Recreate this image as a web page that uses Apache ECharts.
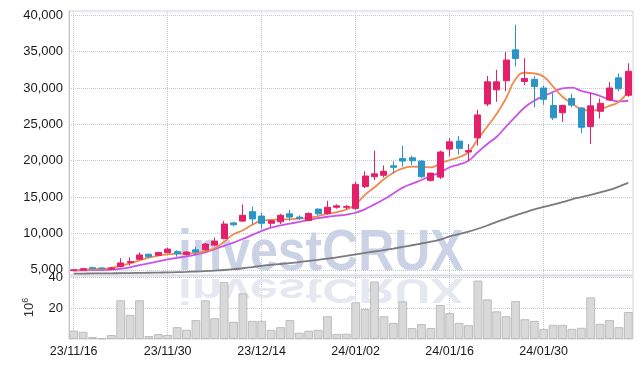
<!DOCTYPE html>
<html><head><meta charset="utf-8">
<script src="https://cdn.jsdelivr.net/npm/echarts@6/dist/echarts.min.js"></script>
<style>html,body{margin:0;padding:0;background:#fff}#c{width:643px;height:368px}</style>
</head><body><div id="c"></div>
<script>
const dates = ['23/11/16','23/11/17','23/11/20','23/11/21','23/11/22','23/11/23','23/11/24','23/11/27','23/11/28','23/11/29','23/11/30',
'23/12/01','23/12/04','23/12/05','23/12/06','23/12/07','23/12/08','23/12/11','23/12/12','23/12/13','23/12/14',
'23/12/15','23/12/18','23/12/19','23/12/20','23/12/21','23/12/22','23/12/26','23/12/27','23/12/28',
'24/01/02','24/01/03','24/01/04','24/01/05','24/01/08','24/01/09','24/01/10','24/01/11','24/01/12','24/01/15','24/01/16',
'24/01/17','24/01/18','24/01/19','24/01/22','24/01/23','24/01/24','24/01/25','24/01/26','24/01/29','24/01/30',
'24/01/31','24/02/01','24/02/02','24/02/05','24/02/06','24/02/07','24/02/08','24/02/13','24/02/14'];
const opens  = [4900,4950,5300,5250,5100,5450,6000,6450,7150,7000,7350,7500,7100,7750,7750,8400,9300,11450,11700,13000,12400,11400,11600,12700,12250,11800,13350,12750,13600,13600,13450,16450,17800,18000,19300,20300,20400,19950,17300,17750,21600,22700,21200,23150,27800,29750,31000,35250,30900,31200,30000,27600,26600,28550,27250,24700,26800,28350,31400,29000];
const closes = [5000,5150,5150,5150,5250,5950,6150,7050,6800,7400,7850,7200,7450,7450,8550,8950,11300,11200,12500,12000,11400,11750,12500,12250,12100,12750,12700,13600,13800,13700,16750,17900,18200,18550,19100,19950,20000,17800,18300,21200,22600,21700,21400,26300,30850,30850,33850,34050,31300,30200,28450,25900,27600,27650,24600,27550,27900,30000,29900,32300];
const lows   = [4850,4900,5100,5100,5000,5350,5600,6350,6700,6900,7300,6800,7000,7100,7650,8250,9200,11000,11600,11200,10650,10850,11300,11750,11900,11700,12500,12600,13400,13300,13250,16250,17350,17700,18250,19200,19400,17600,17150,17500,20600,20850,20000,22100,27500,28100,29550,32950,30400,27350,27700,25600,25350,27350,23800,22300,25800,28200,29550,28800];
const highs  = [5050,5250,5400,5300,5400,6600,6700,7400,7200,7450,8050,7700,7550,8200,8700,9450,11700,11600,14000,13700,12850,11850,12700,13250,12500,12900,13450,14500,14000,13900,17100,18550,21400,19350,19900,22050,20700,20100,18350,21400,23100,23400,22300,27000,31650,32500,34950,38700,34100,31650,30300,29300,27700,29200,27350,29300,28550,30850,32000,33400];
const maShort = [5000,5030,5080,5150,5280,5550,5900,6300,6670,6950,7140,7220,7260,7320,7600,7960,8870,9880,10450,11200,11750,11850,11950,11950,12050,12130,12400,12700,12950,13300,14000,15350,16350,17450,18350,18950,19200,19150,19100,19650,20100,20500,21200,23000,24700,26450,28600,31200,32100,32000,31550,30200,28800,27900,27100,26900,27100,27550,28100,29600];
const maMid = [4900,4920,4950,4980,5020,5150,5350,5650,5900,6150,6450,6650,6850,7100,7400,7850,8300,8750,9250,9800,10350,10800,11100,11350,11600,11850,12100,12300,12450,12600,12850,13350,14000,14700,15500,16300,16850,17350,17900,18400,19100,19500,20000,21200,22300,23300,24700,26050,27350,28250,28900,29450,29950,30050,29600,29300,28900,28400,28150,28250];
const maLong = [4480,4490,4500,4510,4520,4540,4560,4580,4600,4620,4650,4680,4720,4770,4830,4900,4980,5090,5220,5380,5550,5680,5800,5920,6060,6220,6380,6550,6720,6920,7130,7330,7520,7720,7930,8150,8380,8620,8870,9150,9600,9900,10250,10650,11100,11600,12050,12500,12900,13300,13650,13950,14300,14700,15000,15300,15650,16000,16450,16950];
const volumes = [5.4,4.7,1.3,0.4,2.6,25.2,15.7,25.2,1.9,3.2,2.6,7.7,6,12.3,25.2,13.5,37,11.2,29.7,11.8,11.8,6,7.7,12.3,4.1,5.4,6,14.8,3.4,3.4,23.9,19.5,37.4,14.8,10.5,24.5,7.1,9.7,7.1,22.1,16.8,10.5,9,38,25.8,18,14.8,24.7,12.9,11.8,6.6,9.2,9.2,6.6,7.3,27.1,9.9,12.3,7.7,17.6];
const priceTicks = [5000,10000,15000,20000,25000,30000,35000,40000];
const volTicks = [20,40];

const FONT = "'Liberation Sans Narrow','Liberation Sans',sans-serif";
const upColor = '#e5206b', downColor = '#2b95c7';
const ohlc = dates.map((d,i)=>[opens[i],closes[i],lows[i],highs[i]]);
const gridLine = {show:true, lineStyle:{type:'dotted', color:'#c3c7d6', width:1}};
const fmt = v => String(v).replace(/\B(?=(\d{3})+(?!\d))/g, ',');

const chart = echarts.init(document.getElementById('c'), null, {renderer:'canvas'});
chart.setOption({
  animation:false,
  textStyle:{fontFamily:FONT},
  grid:[
    {left:69, right:10, top:11, height:264, show:true, borderColor:'#d3d3db', borderWidth:1},
    {left:69, right:10, top:276, height:63, show:true, borderColor:'#d3d3db', borderWidth:1}
  ],
  xAxis:[
    {type:'category', gridIndex:0, data:dates, boundaryGap:true,
     axisLine:{show:false}, axisTick:{show:false}, axisLabel:{show:false},
     splitLine:Object.assign({interval:9, alignWithLabel:true}, gridLine)},
    {type:'category', gridIndex:1, data:dates, boundaryGap:true,
     axisLine:{show:false}, axisTick:{show:false},
     axisLabel:{interval:9, color:'#1a1a1a', fontSize:12.5, fontFamily:FONT, margin:6},
     splitLine:Object.assign({interval:9, alignWithLabel:true}, gridLine)}
  ],
  yAxis:[
    {type:'value', gridIndex:0, min:4290, max:40590,
     axisLine:{show:true, lineStyle:{color:'#c4c4c4'}},
     axisTick:{show:false, customValues:priceTicks},
     axisLabel:{customValues:priceTicks, formatter:fmt, color:'#1a1a1a', fontSize:13, fontFamily:FONT, margin:6},
     splitLine:gridLine},
    {type:'value', gridIndex:1, min:0, max:41,
     axisLine:{show:true, lineStyle:{color:'#c4c4c4'}},
     axisTick:{show:false, customValues:volTicks},
     axisLabel:{customValues:volTicks, color:'#1a1a1a', fontSize:13, fontFamily:FONT, margin:6},
     splitLine:gridLine,
     name:'{a|10}{b|6}', nameLocation:'middle', nameRotate:90, nameGap:31,
     nameTextStyle:{rich:{a:{fontSize:13, color:'#333', fontFamily:FONT}, b:{fontSize:9, color:'#333', fontFamily:FONT, padding:[0,0,8,0]}}}}
  ],
  graphic:[
    {type:'text', x:178, y:283, scaleX:0.86, z:1, silent:true,
     style:{text:'investCRUX', font:"bold 58px 'Liberation Sans'", fill:'#cbd2e5', verticalAlign:'bottom'}},
    {type:'text', x:178, y:271, scaleX:0.86, scaleY:-0.6, z:1, silent:true,
     style:{text:'investCRUX', font:"bold 58px 'Liberation Sans'", fill:'#e5e8f0', verticalAlign:'bottom'}}
  ],
  series:[
    {type:'line', xAxisIndex:0, yAxisIndex:0, data:maLong, symbol:'none', smooth:true, lineStyle:{color:'#7a7a7f', width:1.8}, z:3},
    {type:'line', xAxisIndex:0, yAxisIndex:0, data:maMid, symbol:'none', smooth:true, lineStyle:{color:'#c953e6', width:1.8}, z:3},
    {type:'line', xAxisIndex:0, yAxisIndex:0, data:maShort, symbol:'none', smooth:true, lineStyle:{color:'#f08a4c', width:1.8}, z:3},
    {type:'candlestick', xAxisIndex:0, yAxisIndex:0, data:ohlc, barWidth:'70%', z:4,
     itemStyle:{color:upColor, color0:downColor, borderColor:upColor, borderColor0:downColor, borderWidth:1}},
    {type:'bar', xAxisIndex:1, yAxisIndex:1, data:volumes, barCategoryGap:'6%', z:2,
     itemStyle:{color:'#d9d9d9', borderColor:'#bdbdbd', borderWidth:1}}
  ]
});
</script></body></html>
